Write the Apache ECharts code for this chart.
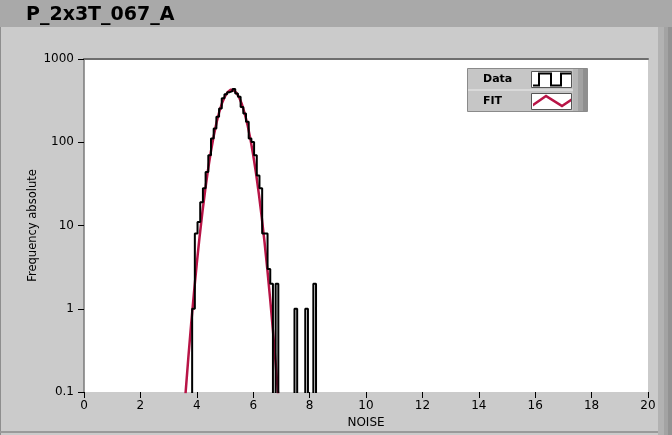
<!DOCTYPE html>
<html><head><meta charset="utf-8">
<script src="https://cdn.jsdelivr.net/npm/echarts@6/dist/echarts.min.js"></script>
<style>html,body{margin:0;padding:0;background:#cbcbcb;}#c{width:672px;height:435px;}</style>
</head><body><div id="c"></div>
<script>
const chartTitle = 'P_2x3T_067_A';
const xName = 'NOISE';
const yName = 'Frequency absolute';
const xTickValues = [0, 2, 4, 6, 8, 10, 12, 14, 16, 18, 20];
const yTickValues = [0.1, 1, 10, 100, 1000];
const legendNames = ['Data', 'FIT'];

// histogram: bins of equal width starting at histStart
const histStart = 3.835;
const histBinWidth = 0.0955;
const histCounts = [1, 8, 11, 19, 28, 44, 70, 111, 146, 202,
  255, 337, 376, 400, 411, 435, 386, 351, 266, 222,
  176, 111, 101, 70, 40, 28, 8, 8, 3, 2,
  0, 2, 0, 0, 0, 0, 0, 0, 1, 0,
  0, 0, 1, 0, 0, 2];

// fitted curve
const fitX = [3.6, 3.7, 3.8, 3.9, 4.0, 4.1, 4.2, 4.3, 4.4, 4.5, 4.6, 4.7, 4.8, 4.9, 5.0, 5.1, 5.2,
  5.3, 5.4, 5.5, 5.6, 5.7, 5.8, 5.9, 6.0, 6.1, 6.2, 6.3, 6.4, 6.5, 6.6, 6.7, 6.8, 6.9];
const fitY = [0.0957, 0.259, 0.657, 1.565, 3.51, 7.38, 14.57, 27.06, 47.2, 77.3, 119.0, 172.1, 233.7, 298.3, 357.5, 402.6, 425.9,
  423.2, 395.1, 346.5, 285.5, 221.0, 160.6, 109.7, 70.4, 42.4, 24.0, 12.8, 6.39, 3.0, 1.32, 0.548, 0.213, 0.078];

const FONT = 'DejaVu Sans';
const floorVal = 0.01; // empty bins fall below the log axis and are clipped

const histData = [[histStart, floorVal]];
histCounts.forEach((c, i) => histData.push([histStart + i * histBinWidth, c > 0 ? c : floorVal]));
histData.push([histStart + histCounts.length * histBinWidth, floorVal]);
const fitData = fitX.map((x, i) => [x, fitY[i]]);

const dataIcon = 'path://M0,13 L5,13 L5,1 L19,1 L19,13 L27,13 L27,1 L38,1 L38,3 L29,3 L29,15 L17,15 L17,3 L7,3 L7,15 L0,15 Z';
const fitIcon = 'path://M0,11 L13,2 L29,12 L38,6 L38,9 L29,15 L13,5 L0,14 Z';

function legendCfg(name, icon, color, top) {
  return {
    data: [{ name: name, icon: icon, itemStyle: { color: color, borderWidth: 0 } }],
    left: 483, top: top, padding: 0, orient: 'horizontal', align: 'right',
    itemWidth: 38, itemHeight: 14, selectedMode: false,
    formatter: '{t|{name}}',
    itemStyle: { borderWidth: 0 },
    textStyle: { fontFamily: FONT, fontWeight: 'bold', fontSize: 11, color: '#000',
      rich: { t: { width: 45, align: 'left', fontFamily: FONT, fontWeight: 'bold', fontSize: 11, color: '#000' } } }
  };
}

const chart = echarts.init(document.getElementById('c'), null, { renderer: 'canvas' });
chart.setOption({
  animation: false,
  backgroundColor: '#cbcbcb',
  title: { text: chartTitle, left: 26, top: 6, padding: 0,
    textStyle: { fontFamily: FONT, fontWeight: 'bold', fontSize: 19, color: '#000' } },
  graphic: [
    { type: 'rect', z: -100, shape: { x: 0, y: 0, width: 672, height: 27 }, style: { fill: '#a9a9a9' } },
    { type: 'rect', z: -100, shape: { x: 0, y: 27, width: 672, height: 408 }, style: { fill: '#cbcbcb' } },
    { type: 'rect', z: -99, shape: { x: 658, y: 27, width: 6, height: 408 }, style: { fill: '#b2b2b2' } },
    { type: 'rect', z: -99, shape: { x: 664, y: 27, width: 4, height: 408 }, style: { fill: '#a3a3a3' } },
    { type: 'rect', z: -99, shape: { x: 668, y: 27, width: 4, height: 408 }, style: { fill: '#939393' } },
    { type: 'rect', z: -99, shape: { x: 0, y: 27, width: 1, height: 408 }, style: { fill: '#8e8e8e' } },
    { type: 'rect', z: -99, shape: { x: 0, y: 431, width: 658, height: 2 }, style: { fill: '#9a9a9a' } },
    // legend frame
    { type: 'rect', z: 3, shape: { x: 467.5, y: 68.5, width: 120, height: 43 }, style: { fill: '#c6c6c6', stroke: '#8a8a8a', lineWidth: 1 } },
    { type: 'rect', z: 3, shape: { x: 573, y: 69, width: 5, height: 42 }, style: { fill: '#b6b6b6' } },
    { type: 'rect', z: 3, shape: { x: 578, y: 69, width: 5, height: 42 }, style: { fill: '#a2a2a2' } },
    { type: 'rect', z: 3, shape: { x: 583, y: 69, width: 5, height: 42 }, style: { fill: '#8f8f8f' } },
    { type: 'line', z: 3, shape: { x1: 468, y1: 90, x2: 573, y2: 90 }, style: { stroke: '#ececec', lineWidth: 1 } },
    { type: 'rect', z: 3, shape: { x: 531.5, y: 71.5, width: 40, height: 16 }, style: { fill: '#fff', stroke: '#555', lineWidth: 1 } },
    { type: 'rect', z: 3, shape: { x: 531.5, y: 93.5, width: 40, height: 16 }, style: { fill: '#fff', stroke: '#555', lineWidth: 1 } }
  ],
  legend: [
    legendCfg(legendNames[0], dataIcon, '#000', 72.5),
    legendCfg(legendNames[1], fitIcon, '#b81446', 94.5)
  ],
  grid: { left: 84, right: 24, top: 59, bottom: 43, show: true, backgroundColor: '#fff', borderWidth: 0,
    containLabel: false, outerBoundsMode: 'none' },
  xAxis: [{
    type: 'value', min: xTickValues[0], max: xTickValues[xTickValues.length - 1],
    interval: xTickValues[1] - xTickValues[0],
    name: xName, nameLocation: 'middle', nameGap: 25, nameMoveOverlap: false,
    nameTextStyle: { fontFamily: FONT, fontSize: 12, color: '#000' },
    axisLine: { show: false },
    axisTick: { show: true, length: 6, lineStyle: { color: '#000', width: 1 } },
    axisLabel: { fontFamily: FONT, fontSize: 12, color: '#000', margin: 8 },
    splitLine: { show: false }
  }, {
    type: 'value', position: 'top', min: xTickValues[0], max: xTickValues[xTickValues.length - 1],
    axisLine: { show: true, onZero: false, lineStyle: { color: '#6e6e6e', width: 2 } },
    axisTick: { show: false }, axisLabel: { show: false }, splitLine: { show: false }
  }],
  yAxis: {
    type: 'log', logBase: 10, min: yTickValues[0], max: yTickValues[yTickValues.length - 1], splitNumber: 4,
    name: yName, nameLocation: 'middle', nameGap: 45, nameRotate: 90, nameMoveOverlap: false,
    nameTextStyle: { fontFamily: FONT, fontSize: 11.5, color: '#000' },
    axisLine: { show: true, lineStyle: { color: '#7a7a7a', width: 1.5 } },
    axisTick: { show: true, length: 6, lineStyle: { color: '#000', width: 1 } },
    minorTick: { show: false },
    axisLabel: { fontFamily: FONT, fontSize: 12, color: '#000', margin: 10,
      formatter: v => String(Number(Number(v).toPrecision(3))) },
    splitLine: { show: false }
  },
  series: [
    { name: legendNames[1], type: 'line', data: fitData, color: '#b81446', showSymbol: false, symbol: 'none',
      clip: true, z: 2, lineStyle: { color: '#b81446', width: 2.5 } },
    { name: legendNames[0], type: 'line', data: histData, step: 'end', color: '#000', showSymbol: false, symbol: 'none',
      clip: true, z: 3, lineStyle: { color: '#000', width: 2 } }
  ]
});
</script></body></html>
